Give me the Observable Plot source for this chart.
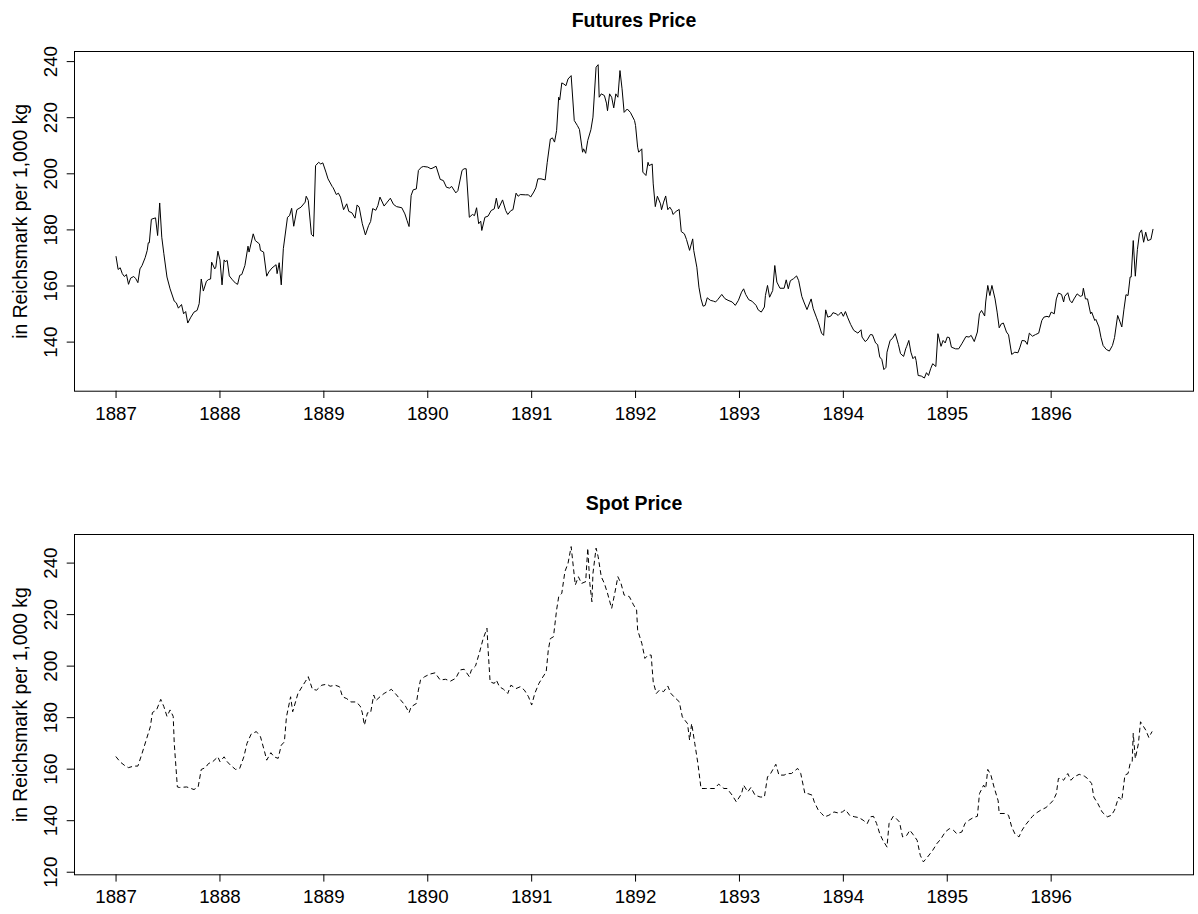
<!DOCTYPE html>
<html>
<head>
<meta charset="utf-8">
<script src="https://cdn.jsdelivr.net/npm/d3@7"></script>
<script src="https://cdn.jsdelivr.net/npm/@observablehq/plot@0.6"></script>
<style>
html, body { margin: 0; padding: 0; background: #fff; }
#charts svg { display: block; }
</style>
</head>
<body>
<div id="charts"></div>
<script>
// ---------- tick labels ----------
const xTicks = [1887, 1888, 1889, 1890, 1891, 1892, 1893, 1894, 1895, 1896];
const futuresYTicks = [140, 160, 180, 200, 220, 240];
const spotYTicks = [120, 140, 160, 180, 200, 220, 240];
const yLabel = "in Reichsmark per 1,000 kg";

// ---------- Futures price (decimal year, RM per 1,000 kg) ----------
const futuresDates = [
1887.00,1887.02,1887.04,1887.06,1887.08,1887.10,1887.12,1887.14,1887.17,1887.19,1887.21,1887.23,1887.25,1887.28,1887.30,1887.31,1887.32,1887.34,1887.38,1887.40,1887.42,1887.44,1887.46,1887.49,1887.52,1887.56,1887.58,1887.60,1887.63,1887.65,1887.67,1887.69,1887.72,1887.75,1887.78,1887.80,1887.82,1887.84,1887.87,1887.89,1887.91,1887.92,1887.95,1887.96,1887.98,
1888.00,1888.02,1888.04,1888.05,1888.07,1888.09,1888.12,1888.15,1888.17,1888.19,1888.21,1888.24,1888.27,1888.28,1888.32,1888.34,1888.38,1888.39,1888.42,1888.45,1888.47,1888.50,1888.54,1888.55,1888.57,1888.59,1888.61,1888.65,1888.67,1888.69,1888.71,1888.74,1888.78,1888.82,1888.83,1888.85,1888.88,1888.90,1888.92,1888.95,1888.97,1888.99,
1889.02,1889.04,1889.08,1889.09,1889.12,1889.14,1889.16,1889.19,1889.22,1889.24,1889.27,1889.30,1889.32,1889.34,1889.37,1889.40,1889.43,1889.45,1889.47,1889.50,1889.52,1889.54,1889.58,1889.61,1889.64,1889.67,1889.70,1889.75,1889.78,1889.80,1889.82,1889.84,1889.86,1889.89,1889.91,1889.94,1889.96,
1890.00,1890.03,1890.05,1890.08,1890.12,1890.15,1890.18,1890.21,1890.23,1890.27,1890.29,1890.33,1890.35,1890.37,1890.40,1890.43,1890.45,1890.47,1890.49,1890.51,1890.52,1890.55,1890.58,1890.61,1890.64,1890.66,1890.68,1890.72,1890.75,1890.77,1890.80,1890.82,1890.85,1890.87,1890.89,1890.94,1890.97,1890.99,
1891.02,1891.04,1891.06,1891.09,1891.13,1891.15,1891.18,1891.20,1891.22,1891.24,1891.26,1891.27,1891.29,1891.31,1891.33,1891.35,1891.38,1891.41,1891.44,1891.46,1891.49,1891.50,1891.52,1891.54,1891.57,1891.59,1891.62,1891.64,1891.65,1891.67,1891.70,1891.72,1891.73,1891.75,1891.77,1891.79,1891.81,1891.83,1891.85,1891.87,1891.89,1891.92,1891.95,1891.99,
1892.00,1892.02,1892.03,1892.06,1892.07,1892.10,1892.12,1892.13,1892.16,1892.17,1892.19,1892.21,1892.24,1892.25,1892.27,1892.29,1892.31,1892.33,1892.35,1892.36,1892.39,1892.42,1892.44,1892.47,1892.49,1892.52,1892.55,1892.56,1892.59,1892.61,1892.63,1892.65,1892.67,1892.69,1892.72,1892.75,1892.77,1892.79,1892.83,1892.86,1892.89,1892.93,1892.96,1892.99,
1893.02,1893.04,1893.06,1893.09,1893.12,1893.16,1893.18,1893.21,1893.24,1893.25,1893.27,1893.29,1893.32,1893.34,1893.36,1893.39,1893.43,1893.45,1893.47,1893.49,1893.52,1893.55,1893.57,1893.60,1893.62,1893.65,1893.69,1893.71,1893.74,1893.76,1893.79,1893.81,1893.83,1893.85,1893.88,1893.90,1893.93,1893.95,1893.98,
1894.00,1894.02,1894.04,1894.07,1894.10,1894.14,1894.17,1894.18,1894.21,1894.23,1894.26,1894.28,1894.31,1894.33,1894.35,1894.37,1894.39,1894.41,1894.42,1894.45,1894.47,1894.50,1894.53,1894.55,1894.58,1894.60,1894.61,1894.63,1894.65,1894.67,1894.69,1894.70,1894.72,1894.75,1894.78,1894.80,1894.82,1894.84,1894.86,1894.89,1894.91,1894.94,1894.96,1894.98,
1895.00,1895.02,1895.04,1895.08,1895.11,1895.14,1895.18,1895.21,1895.23,1895.26,1895.29,1895.31,1895.33,1895.36,1895.37,1895.39,1895.41,1895.43,1895.46,1895.48,1895.50,1895.52,1895.54,1895.57,1895.59,1895.62,1895.65,1895.68,1895.70,1895.72,1895.75,1895.77,1895.79,1895.82,1895.85,1895.88,1895.91,1895.93,1895.96,1895.98,
1896.00,1896.03,1896.05,1896.07,1896.10,1896.12,1896.13,1896.16,1896.18,1896.20,1896.22,1896.25,1896.28,1896.30,1896.31,1896.33,1896.35,1896.38,1896.39,1896.42,1896.43,1896.46,1896.48,1896.50,1896.53,1896.56,1896.59,1896.61,1896.64,1896.66,1896.68,1896.70,1896.72,1896.74,1896.76,1896.77,1896.79,1896.81,1896.83,1896.85,1896.87,1896.89,1896.91,1896.93,1896.96,1896.98
];
const futuresPrice = [
170.5,165.9,166.5,164.4,163.4,164.1,160.6,162.8,163.4,162.6,161.2,166.1,167.3,170.1,172.7,175.4,175.4,183.8,184.3,178.0,189.6,177.4,171.5,163.2,159.0,154.6,154.0,152.1,153.4,150.1,150.9,146.8,148.9,150.7,151.3,153.7,162.5,158.2,161.7,162.3,162.5,168.5,166.1,166.7,172.4,
169.3,160.4,169.3,168.7,169.1,163.6,162.2,161.0,160.6,163.8,164.1,167.3,174.2,172.1,178.6,176.2,175.0,172.7,172.1,163.5,165.0,166.4,167.6,164.4,168.3,160.4,173.3,184.5,185.1,187.7,181.3,187.2,188.1,189.9,192.0,190.5,178.4,177.7,202.9,204.1,203.5,203.9,
200.6,198.2,195.5,195.0,192.6,193.1,191.7,187.2,189.3,186.6,186.1,184.2,188.9,188.1,182.2,178.2,181.5,183.0,187.6,187.0,188.7,191.7,188.5,189.9,191.3,189.1,188.3,187.9,185.7,183.4,181.2,192.3,194.3,194.6,201.2,202.4,202.6,
202.4,201.8,202.1,202.7,198.0,197.6,195.2,194.9,195.5,193.2,194.0,201.2,201.8,201.8,184.5,185.5,185.1,187.9,182.2,183.1,179.8,184.5,184.9,186.9,187.5,191.3,187.5,190.7,186.9,185.5,186.9,187.2,193.1,192.0,192.6,192.5,192.5,191.7,
193.5,195.0,198.2,198.2,197.8,204.1,212.4,212.8,211.3,215.4,227.3,226.3,232.4,232.0,231.4,233.8,235.0,219.0,217.2,215.8,207.7,208.9,207.3,211.9,215.7,220.2,238.0,238.9,227.3,228.5,227.9,225.2,222.5,228.5,227.3,223.5,228.5,227.3,236.8,230.3,221.9,223.1,221.9,219.0,
217.2,209.5,207.7,208.9,200.6,199.4,204.1,202.9,203.5,196.4,188.3,192.0,189.3,187.2,189.9,192.1,187.2,188.1,186.9,185.5,186.6,187.3,179.4,178.6,176.6,172.7,176.8,172.7,166.7,159.6,155.4,152.8,153.1,155.8,154.9,154.6,154.3,155.1,157.0,155.5,154.9,154.3,153.1,154.9,
157.8,159.0,157.0,155.1,154.6,153.1,151.5,150.7,152.5,156.6,160.2,156.0,158.4,167.3,161.4,159.2,159.2,162.2,159.0,161.9,162.6,163.6,161.9,156.3,154.3,151.6,155.4,151.9,148.9,146.9,143.2,142.4,151.5,148.9,149.3,150.5,150.1,149.5,150.7,
149.2,150.9,148.9,146.3,144.2,143.2,144.4,141.8,140.2,140.8,142.7,142.6,139.7,139.1,134.7,133.8,130.2,131.0,136.4,140.6,141.2,143.0,139.1,135.9,134.9,137.6,138.5,140.6,136.4,134.1,134.9,133.5,128.1,127.9,127.2,129.1,128.1,130.5,132.3,131.3,143.0,138.5,140.6,139.7,
141.8,141.6,138.2,137.6,137.6,139.4,142.0,141.8,142.4,140.2,143.6,150.1,151.3,149.3,154.3,160.2,156.6,160.2,155.4,150.7,145.1,146.5,146.8,143.6,142.6,135.6,136.4,136.2,138.2,140.6,140.4,139.2,143.2,142.1,142.7,143.2,147.7,148.9,149.2,148.9,
150.7,150.1,155.4,157.5,157.0,154.3,156.3,157.6,154.9,154.0,155.4,157.2,156.3,156.6,159.2,155.4,155.4,150.1,150.7,147.7,148.1,145.4,141.6,138.8,137.4,136.8,138.8,141.6,149.5,147.5,145.4,151.5,156.9,156.6,163.2,163.2,176.2,163.5,173.0,178.8,180.0,175.6,179.2,176.2,176.6,180.2
];

// ---------- Spot price (decimal year, RM per 1,000 kg) ----------
const spotDates = [
1887.00,1887.04,1887.09,1887.12,1887.17,1887.21,1887.25,1887.29,1887.33,1887.35,1887.39,1887.43,1887.46,1887.49,1887.52,1887.55,1887.56,1887.59,1887.61,1887.68,1887.75,1887.79,1887.82,1887.86,1887.89,1887.93,1887.98,
1888.00,1888.04,1888.07,1888.10,1888.15,1888.19,1888.23,1888.26,1888.30,1888.35,1888.39,1888.43,1888.45,1888.49,1888.52,1888.56,1888.59,1888.62,1888.64,1888.68,1888.70,1888.75,1888.79,1888.82,1888.85,1888.89,1888.93,1888.98,
1889.03,1889.06,1889.11,1889.15,1889.18,1889.22,1889.26,1889.31,1889.35,1889.37,1889.39,1889.42,1889.45,1889.48,1889.50,1889.54,1889.58,1889.65,1889.70,1889.74,1889.78,1889.82,1889.84,1889.89,1889.91,1889.93,1889.97,
1890.02,1890.07,1890.12,1890.17,1890.22,1890.27,1890.31,1890.35,1890.40,1890.42,1890.46,1890.50,1890.53,1890.57,1890.58,1890.60,1890.64,1890.66,1890.69,1890.73,1890.77,1890.80,1890.85,1890.89,1890.93,1890.97,
1891.00,1891.03,1891.07,1891.10,1891.14,1891.16,1891.18,1891.21,1891.24,1891.26,1891.29,1891.32,1891.35,1891.38,1891.42,1891.45,1891.48,1891.52,1891.54,1891.56,1891.58,1891.59,1891.62,1891.64,1891.67,1891.70,1891.73,1891.77,1891.80,1891.83,1891.86,1891.89,1891.94,1891.98,
1892.01,1892.02,1892.06,1892.09,1892.12,1892.15,1892.17,1892.20,1892.23,1892.27,1892.31,1892.34,1892.37,1892.42,1892.45,1892.50,1892.52,1892.54,1892.57,1892.60,1892.63,1892.67,1892.72,1892.76,1892.80,1892.85,1892.88,1892.93,1892.97,
1893.02,1893.04,1893.08,1893.11,1893.15,1893.20,1893.24,1893.27,1893.30,1893.35,1893.38,1893.43,1893.46,1893.50,1893.56,1893.59,1893.63,1893.66,1893.70,1893.72,1893.76,1893.79,1893.82,1893.86,1893.91,1893.95,1893.99,
1894.02,1894.06,1894.11,1894.15,1894.19,1894.23,1894.26,1894.29,1894.32,1894.35,1894.38,1894.42,1894.44,1894.48,1894.51,1894.54,1894.57,1894.61,1894.64,1894.67,1894.71,1894.74,1894.77,1894.81,1894.86,1894.90,1894.94,1894.98,
1895.02,1895.06,1895.09,1895.14,1895.17,1895.21,1895.25,1895.29,1895.31,1895.35,1895.37,1895.39,1895.42,1895.45,1895.49,1895.50,1895.55,1895.59,1895.62,1895.65,1895.69,1895.72,1895.75,1895.79,1895.82,1895.85,1895.90,1895.95,1895.99,
1896.02,1896.05,1896.07,1896.10,1896.12,1896.16,1896.19,1896.22,1896.27,1896.32,1896.35,1896.39,1896.41,1896.45,1896.49,1896.54,1896.58,1896.61,1896.65,1896.68,1896.71,1896.74,1896.76,1896.78,1896.79,1896.81,1896.84,1896.86,1896.89,1896.91,1896.94,1896.97
];
const spotPrice = [
164.8,162.8,161.2,160.6,161.2,161.2,166.1,171.3,176.5,182.0,183.0,187.1,184.3,180.5,183.0,180.5,170.1,153.1,152.9,153.1,152.1,153.1,159.9,160.6,162.2,162.9,164.8,
162.9,164.8,162.9,161.6,159.9,160.3,164.8,170.0,173.6,174.6,172.6,166.7,163.5,166.4,164.8,164.2,169.3,170.6,180.3,188.1,182.3,189.3,192.0,193.9,195.9,191.0,190.7,192.6,
193.0,192.2,192.6,192.0,188.1,187.4,186.1,186.1,184.5,181.9,177.1,181.9,181.9,188.8,186.6,188.1,189.4,191.0,188.8,186.8,184.9,181.9,184.2,185.5,190.7,194.6,195.9,
196.9,197.4,194.6,194.9,194.2,195.3,198.5,198.8,195.9,198.5,200.1,205.6,210.2,214.7,206.9,193.9,193.3,194.6,192.0,191.0,189.4,192.6,191.3,192.0,190.7,188.1,
184.9,189.4,193.3,195.3,197.8,206.2,210.7,211.4,221.8,226.9,228.3,236.7,239.9,246.4,231.5,234.7,232.1,232.8,245.8,232.1,225.0,236.0,245.8,242.5,234.7,232.1,228.3,222.4,228.3,234.7,232.1,227.6,227.0,223.8,
221.8,214.0,208.9,203.0,204.3,204.3,193.9,189.4,190.7,190.1,192.3,189.4,188.1,186.2,180.3,177.7,171.3,177.7,170.0,162.2,152.5,152.5,152.5,152.5,154.2,152.5,152.5,149.9,147.3,
150.5,153.8,151.2,152.9,149.9,149.2,149.2,157.0,158.3,161.9,157.7,157.7,158.3,158.3,160.3,158.3,150.5,150.5,149.9,147.3,144.0,142.8,141.5,142.1,143.4,143.0,143.4,
144.3,142.1,141.5,141.2,140.2,138.9,141.5,141.7,138.9,135.0,132.4,129.8,138.9,141.7,140.8,139.5,133.7,134.3,136.3,134.7,132.4,126.6,124.0,125.9,128.5,131.1,133.0,135.6,
136.9,136.3,135.0,135.6,138.9,140.2,141.2,141.7,150.5,153.8,152.5,159.9,157.7,153.1,147.7,142.8,142.8,142.1,137.6,135.0,133.7,136.3,138.2,140.2,141.7,142.8,144.1,145.1,146.6,
147.9,150.5,156.4,156.4,155.7,158.3,155.7,157.0,158.0,157.3,156.4,154.4,149.2,146.6,143.4,141.5,142.1,144.1,149.2,147.9,157.7,158.3,162.2,162.8,173.9,164.1,170.0,178.4,176.5,175.2,172.3,174.5
];

const FONT = "'Liberation Sans', Arial, Helvetica, sans-serif";

function panel({dates, prices, title, yDomain, yTicks, marginTop, marginBottom, dash}) {
  const rows = dates.map((d, i) => ({date: d, price: prices[i]}));
  return Plot.plot({
    width: 1198,
    height: 457,
    marginLeft: 74,
    marginRight: 5,
    marginTop,
    marginBottom,
    style: {fontFamily: FONT, background: "#fff", color: "#000", overflow: "visible"},
    x: {domain: [1886.6, 1897.37], axis: null, label: null},
    y: {domain: yDomain, axis: null, label: null},
    marks: [
      Plot.line(rows, {x: "date", y: "price", stroke: "#000", strokeWidth: 1, strokeDasharray: dash}),
      Plot.frame({stroke: "#000", strokeWidth: 1}),
      Plot.axisX(xTicks, {tickSize: 7.3, tickPadding: 8, fontSize: 18.7, tickFormat: "d", label: null, stroke: "#000", fill: "#000"}),
      Plot.axisY(yTicks, {tickSize: 7.3, tickFormat: () => "", label: null, stroke: "#000"}),
      Plot.text(yTicks, {y: d => d, text: d => String(d), frameAnchor: "left", rotate: -90,
        textAnchor: "middle", lineAnchor: "bottom", dx: -17.3, fontSize: 18.7, fill: "#000"}),
      Plot.text([yLabel], {frameAnchor: "left", rotate: -90, textAnchor: "middle", lineAnchor: "bottom",
        dx: -47.5, fontSize: 19.3, fill: "#000"}),
      Plot.text([title], {frameAnchor: "top", textAnchor: "middle", lineAnchor: "bottom", dy: -24.7,
        fontSize: 19.5, fontWeight: "bold", fill: "#000"})
    ]
  });
}

const root = document.getElementById("charts");
root.append(panel({
  dates: futuresDates, prices: futuresPrice, title: "Futures Price",
  yDomain: [122.5, 243.6], yTicks: futuresYTicks, marginTop: 51, marginBottom: 66.3, dash: null
}));
root.append(panel({
  dates: spotDates, prices: spotPrice, title: "Spot Price",
  yDomain: [119.0, 251.1], yTicks: spotYTicks, marginTop: 77, marginBottom: 39.7, dash: "4,4"
}));
</script>
</body>
</html>
